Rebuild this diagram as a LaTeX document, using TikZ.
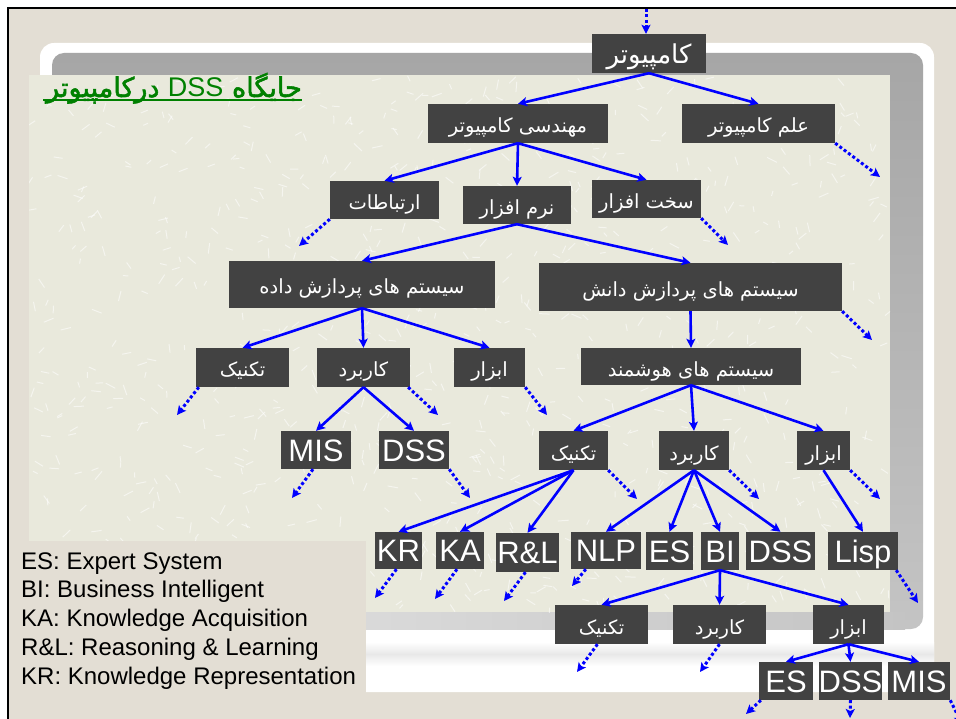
\documentclass[tikz,border=0pt]{standalone}
\usepackage{fontspec}
\setmainfont{Liberation Sans}
\newfontfamily\farsi[Script=Arabic]{DejaVu Sans}
\newfontfamily\farsibold[Script=Arabic,FakeBold=2]{DejaVu Sans}
\TeXXeTstate=1
\usetikzlibrary{arrows.meta,calc}
\definecolor{bgbeige}{RGB}{227,222,212}
\definecolor{texbg}{RGB}{233,233,220}
\definecolor{boxc}{RGB}{66,66,66}
\definecolor{grayA}{RGB}{166,166,166}
\definecolor{grayB}{RGB}{196,196,196}
\definecolor{grayC}{RGB}{230,230,230}
\definecolor{titlegreen}{RGB}{0,128,0}
\newcommand\pers[1]{\beginR #1\endR}
\tikzset{
  bx/.style 2 args={minimum width=#1pt, minimum height=#2pt},
  box/.style={fill=boxc, text=white, inner sep=0pt, align=center},
  pbox/.style={box, font=\farsi\fontsize{19.5}{19.5}\selectfont, text height=19pt, text depth=0pt},
  bigpbox/.style={box, font=\farsi\fontsize{26}{26}\selectfont, text height=20pt, text depth=0pt},
  lbox/.style={box, font=\fontsize{31}{31}\selectfont, text height=22.3pt, text depth=0pt},
  arr/.style={draw=blue, line width=2.6pt, -{Stealth[length=9pt,width=9pt,inset=2pt]}, blue},
  darr/.style={draw=blue, line width=3pt, dash pattern=on 3pt off 2.4pt, -{Stealth[length=9pt,width=9pt,inset=2pt]}, blue},
  legend/.style={anchor=base west, inner sep=0pt, font=\fontsize{24}{28}\selectfont},
  streak/.style={draw=white, line width=1pt, opacity=0.55}
}
\begin{document}
\begin{tikzpicture}[x=1pt,y=-1pt]
\useasboundingbox (0,0) rectangle (956,719);
% background frame
\fill[white] (0,0) rectangle (956,719);
\fill[bgbeige] (8,8) rectangle (956,719);
\draw[black, line width=2pt] (8,719) -- (8,8) -- (956,8);
\fill[white, rounded corners=14pt] (40,43) rectangle (934,692);
\shade[top color=white, bottom color=black!9] (40,642) rectangle (934,654);
\shade[top color=black!9, bottom color=white] (40,654) rectangle (934,666);
\shade[rounded corners=12pt, top color=grayA, bottom color=grayB] (52,53) rectangle (923,629);
\shade[left color=grayC, right color=grayB] (52,612) rectangle (905,629);
\fill[texbg] (29,75) rectangle (890,612);
% texture streaks
\begin{scope}
\clip (29,75) rectangle (890,612);
\pgfmathsetseed{7}
\foreach \i in {1,...,900}{
  \pgfmathsetmacro{\px}{29+861*rnd}
  \pgfmathsetmacro{\py}{75+537*rnd}
  \pgfmathsetmacro{\pa}{360*rnd}
  \pgfmathsetmacro{\pl}{5+6*rnd}
  \draw[streak] (\px,\py) -- ++(\pa:\pl);
}
\end{scope}
\fill[bgbeige] (9,541) rectangle (366,719);
% title
\node[anchor=base east, inner sep=0pt, text=titlegreen, font=\fontsize{27}{27}\selectfont] (title) at (302,97)
  {\farsibold\pers{جایگاه \beginL{\normalfont DSS}\endL{} درکامپیوتر}};
\draw[titlegreen, line width=2pt] (43,100) -- (302,100);
% nodes
\node[bigpbox, bx={114}{39}] (comp) at (649,53.5) {\pers{کامپیوتر}};
\node[pbox, bx={180}{39}] (mohandesi) at (518,123.5) {\pers{مهندسی کامپیوتر}};
\node[pbox, bx={153}{39}] (elm) at (758.5,123.5) {\pers{علم کامپیوتر}};
\node[pbox, bx={109}{38}] (ertebatat) at (384.5,200) {\pers{ارتباطات}};
\node[pbox, bx={108}{38}] (narm) at (517,205) {\pers{نرم افزار}};
\node[pbox, bx={109}{38}] (sakht) at (646.5,199) {\pers{سخت افزار}};
\node[pbox, bx={266}{47}] (dade) at (362,284.5) {\pers{سیستم های پردازش داده}};
\node[pbox, bx={303}{48}] (danesh) at (690.5,287) {\pers{سیستم های پردازش دانش}};
\node[pbox, bx={93}{39}] (tech1) at (242.5,367.5) {\pers{تکنیک}};
\node[pbox, bx={93}{39}] (kar1) at (363.5,367.5) {\pers{کاربرد}};
\node[pbox, bx={71}{39}] (abzar1) at (489.5,367.5) {\pers{ابزار}};
\node[pbox, bx={220}{37}] (hush) at (691,366.5) {\pers{سیستم های هوشمند}};
\node[lbox, bx={70}{38}] (mis1) at (316,450) {MIS};
\node[lbox, bx={70}{38}] (dss1) at (414,450) {DSS};
\node[pbox, bx={69}{39}] (tech2) at (573.5,450.5) {\pers{تکنیک}};
\node[pbox, bx={70}{39}] (kar2) at (694,450.5) {\pers{کاربرد}};
\node[pbox, bx={53}{39}] (abzar2) at (823.5,450.5) {\pers{ابزار}};
\node[lbox, bx={47}{37}] (kr) at (398.5,550.5) {KR};
\node[lbox, bx={48}{37}] (ka) at (460,550.5) {KA};
\node[lbox, bx={63}{39}] (rl) at (527.5,552.5) {R\&L};
\node[lbox, bx={70}{37}] (nlp) at (606,550.5) {NLP};
\node[lbox, bx={47}{38}] (es) at (669.5,551) {ES};
\node[lbox, bx={38}{38}] (bi) at (720,551) {BI};
\node[lbox, bx={69}{38}] (dss2) at (780.5,551) {DSS};
\node[lbox, bx={70}{38}] (lisp) at (863,551) {Lisp};
\node[pbox, bx={93}{39}] (tech3) at (601.5,624.5) {\pers{تکنیک}};
\node[pbox, bx={93}{39}] (kar3) at (719.5,624.5) {\pers{کاربرد}};
\node[pbox, bx={71}{39}] (abzar3) at (848.5,624.5) {\pers{ابزار}};
\node[lbox, bx={54}{38}] (es3) at (786,681) {ES};
\node[lbox, bx={61}{38}] (dss3) at (850.5,681) {DSS};
\node[lbox, bx={62}{38}] (mis3) at (919,681) {MIS};
% legend
\node[legend] (l1) at (21,569) {ES: Expert System};
\node[legend] (l2) at (21,597.75) {BI: Business Intelligent};
\node[legend] (l3) at (21,626.5) {KA: Knowledge Acquisition};
\node[legend] (l4) at (21,655.25) {R\&L: Reasoning \& Learning};
\node[legend] (l5) at (21,684) {KR: Knowledge Representation};
% solid connectors
\draw[arr] (comp.south) -- (mohandesi.north);
\draw[arr] (comp.south) -- (elm.north);
\draw[arr] (mohandesi.south) -- (ertebatat.north);
\draw[arr] (mohandesi.south) -- (narm.north);
\draw[arr] (mohandesi.south) -- (sakht.north);
\draw[arr] (narm.south) -- (dade.north);
\draw[arr] (narm.south) -- (danesh.north);
\draw[arr] (dade.south) -- (tech1.north);
\draw[arr] (dade.south) -- (kar1.north);
\draw[arr] (dade.south) -- (abzar1.north);
\draw[arr] (danesh.south) -- (hush.north);
\draw[arr] (kar1.south) -- (mis1.north);
\draw[arr] (kar1.south) -- (dss1.north);
\draw[arr] (hush.south) -- (tech2.north);
\draw[arr] (hush.south) -- (kar2.north);
\draw[arr] (hush.south) -- (abzar2.north);
\draw[arr] (tech2.south) -- (kr.north);
\draw[arr] (tech2.south) -- (ka.north);
\draw[arr] (tech2.south) -- (rl.north);
\draw[arr] (kar2.south) -- (nlp.north);
\draw[arr] (kar2.south) -- (es.north);
\draw[arr] (kar2.south) -- (bi.north);
\draw[arr] (kar2.south) -- (dss2.north);
\draw[arr] (abzar2.south) -- (lisp.north);
\draw[arr] (bi.south) -- (tech3.north);
\draw[arr] (bi.south) -- (kar3.north);
\draw[arr] (bi.south) -- (abzar3.north);
\draw[arr] (abzar3.south) -- (es3.north);
\draw[arr] (abzar3.south) -- (dss3.north);
\draw[arr] (abzar3.south) -- (mis3.north);
% dotted connectors with free ends
\coordinate (t0) at (646,9);
\coordinate (d1) at (880,177);
\coordinate (d2) at (299,246);
\coordinate (d3) at (728,245);
\coordinate (d4) at (872,340);
\coordinate (d5) at (177,415);
\coordinate (d6) at (438,415);
\coordinate (d7) at (547,415);
\coordinate (d8) at (292,498);
\coordinate (d9) at (470,498);
\coordinate (d10) at (637,499);
\coordinate (d11) at (759,499);
\coordinate (d12) at (880,499);
\coordinate (d13) at (375,598);
\coordinate (d14) at (435,599);
\coordinate (d15) at (504,601);
\coordinate (d16) at (572,586);
\coordinate (d17) at (918,603);
\coordinate (d18) at (577,672);
\coordinate (d19) at (700,672);
\coordinate (d20) at (746,714);
\coordinate (d21) at (850,718);
\coordinate (d22) at (962,724);
\draw[darr] (t0) -- (t0 |- comp.north);
\draw[darr] (elm.south east) -- (d1);
\draw[darr] (ertebatat.south west) -- (d2);
\draw[darr] (sakht.south east) -- (d3);
\draw[darr] (danesh.south east) -- (d4);
\draw[darr] ($(tech1.south west)+(3,0)$) -- (d5);
\draw[darr] ($(kar1.south east)+(-2,0)$) -- (d6);
\draw[darr] (abzar1.south east) -- (d7);
\draw[darr] ($(mis1.south)+(-3,0)$) -- (d8);
\draw[darr] (dss1.south east) -- (d9);
\draw[darr] (tech2.south east) -- (d10);
\draw[darr] (kar2.south east) -- (d11);
\draw[darr] (abzar2.south east) -- (d12);
\draw[darr] ($(kr.south)+(-2,0)$) -- (d13);
\draw[darr] ($(ka.south)+(-3,0)$) -- (d14);
\draw[darr] ($(rl.south)+(-2,0)$) -- (d15);
\draw[darr] ($(nlp.south west)+(15,0)$) -- (d16);
\draw[darr] ($(lisp.south east)+(-2,0)$) -- (d17);
\draw[darr] ($(tech3.south)+(-4,0)$) -- (d18);
\draw[darr] (kar3.south) -- (d19);
\draw[darr] ($(es3.south west)+(2,0)$) -- (d20);
\draw[darr] (dss3.south) -- (d21);
\draw[darr] (mis3.south east) -- (d22);
\end{tikzpicture}
\end{document}
